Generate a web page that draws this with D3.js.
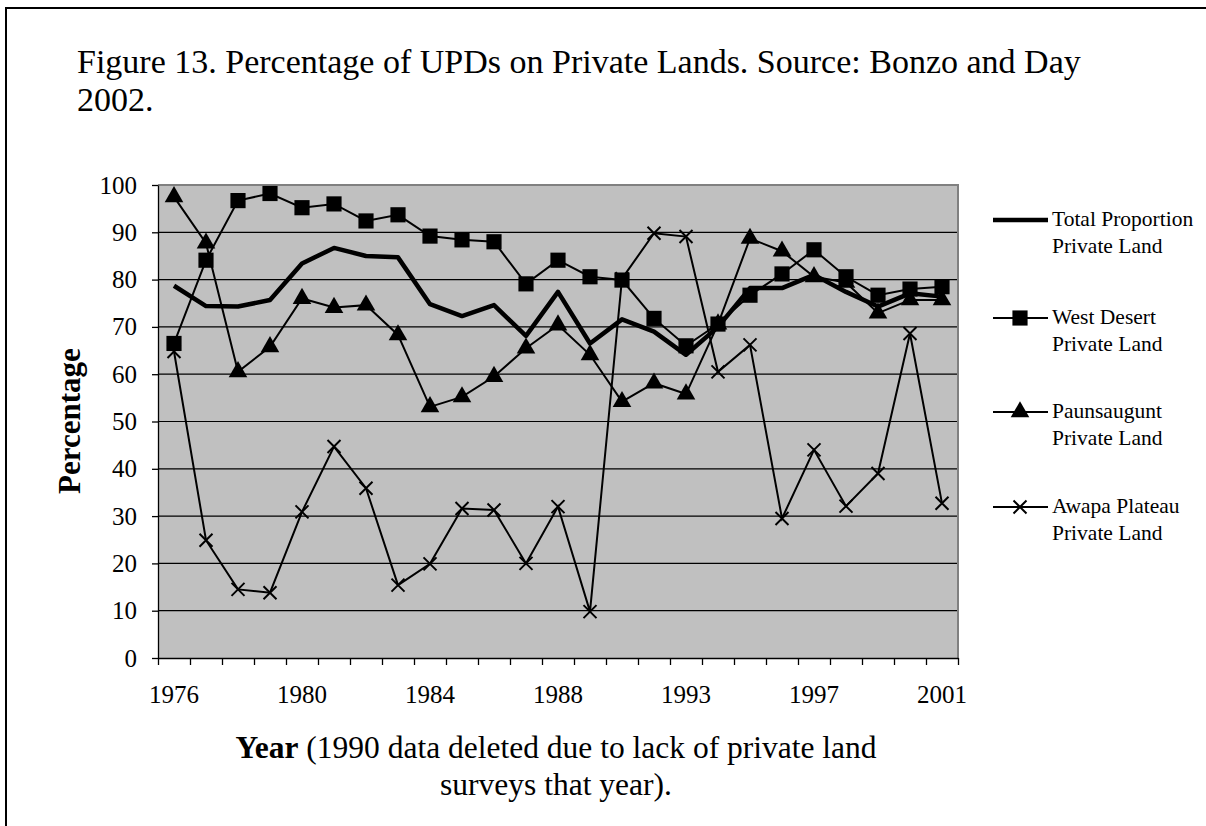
<!DOCTYPE html>
<html>
<head>
<meta charset="utf-8">
<script src="https://cdn.jsdelivr.net/npm/d3@7"></script>
<style>
body { margin: 0; background: #fff; }
svg { display: block; font-family: "Liberation Serif", "Times New Roman", serif; }
.axis text { font-size: 25px; fill: #000; font-family: "Liberation Serif", serif; }
.axis path, .axis line { stroke: #000; stroke-width: 1.3; }
.legendText { font-size: 21.5px; }
</style>
</head>
<body>
<script>
(function(){

//categories (1990 left out of the survey)
var years = ["1976","1977","1978","1979","1980","1981","1982","1983","1984","1985","1986","1987","1988","1989",
    "1991","1992","1993","1994","1995","1996","1997","1998","1999","2000","2001"];
var yearLabels = ["1976","1980","1984","1988","1993","1997","2001"];
var yTicks = [0,10,20,30,40,50,60,70,80,90,100];

//series values
var totalVals = [78.7,74.4,74.3,75.7,83.4,86.7,85.0,84.7,74.8,72.3,74.6,68.1,77.4,66.5,
    71.6,69.0,64.1,70.0,78.2,78.2,81.0,77.4,74.3,77.1,76.4];
var westVals = [66.5,84.1,96.7,98.2,95.2,96.0,92.4,93.7,89.2,88.4,88.0,79.1,84.1,80.6,
    79.9,71.8,66.0,70.6,76.7,81.2,86.3,80.6,76.7,78.0,78.5];
var paunVals = [97.5,87.7,60.5,65.8,76.0,74.1,74.6,68.3,53.1,55.2,59.5,65.5,70.4,64.1,
    54.2,58.1,55.8,70.6,88.7,86.0,80.6,79.4,72.9,75.7,75.7];
var awapaVals = [64.8,24.9,14.5,13.8,30.9,44.7,35.9,15.4,19.9,31.6,31.3,20.0,32.0,9.8,
    80.2,89.8,89.1,60.5,66.2,29.5,44.0,32.1,39.0,68.6,32.7];

var seriesNames = [["Total Proportion","Private Land"],["West Desert","Private Land"],
    ["Paunsaugunt","Private Land"],["Awapa Plateau","Private Land"]];

var width = 1206, height = 826;
var plot = {left: 158, right: 958, top: 185, bottom: 658};

var svg = d3.select("body").append("svg")
    .attr("width", width)
    .attr("height", height);

//page frame (top and left edges only)
svg.append("path")
    .attr("d", "M6,826 L6,8 L1206,8")
    .attr("fill", "none")
    .attr("stroke", "#000")
    .attr("stroke-width", 2);

//title
svg.append("text").attr("x", 77).attr("y", 73).style("font-size", "34px")
    .text("Figure 13. Percentage of UPDs on Private Lands. Source: Bonzo and Day");
svg.append("text").attr("x", 77).attr("y", 111).style("font-size", "34px")
    .text("2002.");

//scales
var x = d3.scaleBand().domain(years).range([plot.left, plot.right]).padding(0);
var xEdge = d3.scaleLinear().domain([0, years.length]).range([plot.left, plot.right]);
var y = d3.scaleLinear().domain([0, 100]).range([plot.bottom, plot.top]);

function cx(i){ return x(years[i]) + x.bandwidth() / 2; }

//plot background
svg.append("rect")
    .attr("x", plot.left).attr("y", plot.top)
    .attr("width", plot.right - plot.left).attr("height", plot.bottom - plot.top)
    .attr("fill", "#c0c0c0");

//gridlines
svg.selectAll(".grid")
    .data(yTicks.filter(function(d){ return d > 0 && d < 100; }))
    .enter().append("line")
    .attr("class", "grid")
    .attr("x1", plot.left).attr("x2", plot.right)
    .attr("y1", function(d){ return y(d); }).attr("y2", function(d){ return y(d); })
    .attr("stroke", "#000").attr("stroke-width", 1.2);

//gray border top and right
svg.append("path")
    .attr("d", "M" + plot.left + "," + plot.top + " L" + plot.right + "," + plot.top + " L" + plot.right + "," + plot.bottom)
    .attr("fill", "none").attr("stroke", "#808080").attr("stroke-width", 2);

//y axis
svg.append("g")
    .attr("class", "axis")
    .attr("transform", "translate(" + plot.left + ",0)")
    .call(d3.axisLeft(y).tickValues(yTicks).tickSize(6).tickSizeOuter(0).tickPadding(15));

//x axis ticks at category edges
svg.append("g")
    .attr("class", "axis")
    .attr("transform", "translate(0," + plot.bottom + ")")
    .call(d3.axisBottom(xEdge).tickValues(d3.range(years.length + 1))
        .tickFormat("").tickSize(7).tickSizeOuter(0));

//x axis labels
var xLab = svg.append("g")
    .attr("class", "axis")
    .attr("transform", "translate(0," + plot.bottom + ")")
    .call(d3.axisBottom(x).tickValues(yearLabels).tickSize(0).tickPadding(27));
xLab.select(".domain").remove();

//axis titles
svg.append("text")
    .attr("transform", "translate(80,421) rotate(-90)")
    .attr("text-anchor", "middle")
    .style("font-size", "31px").style("font-weight", "bold")
    .text("Percentage");

var xt = svg.append("text")
    .attr("x", 556).attr("y", 758)
    .attr("text-anchor", "middle")
    .style("font-size", "31.5px");
xt.append("tspan").style("font-weight", "bold").text("Year");
xt.append("tspan").text(" (1990 data deleted due to lack of private land");
svg.append("text")
    .attr("x", 556).attr("y", 795)
    .attr("text-anchor", "middle")
    .style("font-size", "31.5px")
    .text("surveys that year).");

//line generator
var line = d3.line()
    .x(function(d, i){ return cx(i); })
    .y(function(d){ return y(d); });

//marker shapes
var sq = d3.symbol().type(d3.symbolSquare).size(230)();
var tri = d3.symbol().type(d3.symbolTriangle).size(150)();
function cross(s){
    return "M" + (-s) + "," + (-s) + "L" + s + "," + s + "M" + (-s) + "," + s + "L" + s + "," + (-s);
}

//total
svg.append("path").datum(totalVals)
    .attr("d", line).attr("fill", "none").attr("stroke", "#000")
    .attr("stroke-width", 4.5).attr("stroke-linejoin", "round");

//west desert
svg.append("path").datum(westVals)
    .attr("d", line).attr("fill", "none").attr("stroke", "#000").attr("stroke-width", 2);
svg.selectAll(".west").data(westVals).enter().append("path")
    .attr("class", "west")
    .attr("transform", function(d, i){ return "translate(" + cx(i) + "," + y(d) + ")"; })
    .attr("d", sq).attr("fill", "#000");

//paunsaugunt
svg.append("path").datum(paunVals)
    .attr("d", line).attr("fill", "none").attr("stroke", "#000").attr("stroke-width", 2);
svg.selectAll(".paun").data(paunVals).enter().append("path")
    .attr("class", "paun")
    .attr("transform", function(d, i){ return "translate(" + cx(i) + "," + y(d) + ")"; })
    .attr("d", tri).attr("fill", "#000");

//awapa
svg.append("path").datum(awapaVals)
    .attr("d", line).attr("fill", "none").attr("stroke", "#000").attr("stroke-width", 2);
svg.selectAll(".awapa").data(awapaVals).enter().append("path")
    .attr("class", "awapa")
    .attr("transform", function(d, i){ return "translate(" + cx(i) + "," + y(d) + ")"; })
    .attr("d", cross(6.5)).attr("fill", "none").attr("stroke", "#000").attr("stroke-width", 2);

//legend
var legY = [220, 318, 412, 507];
var legend = svg.selectAll(".legend").data(seriesNames).enter().append("g")
    .attr("class", "legend")
    .attr("transform", function(d, i){ return "translate(993," + legY[i] + ")"; });
legend.append("line")
    .attr("x1", 0).attr("x2", 55).attr("y1", 0).attr("y2", 0)
    .attr("stroke", "#000")
    .attr("stroke-width", function(d, i){ return i == 0 ? 4.5 : 2; });
legend.each(function(d, i){
    var g = d3.select(this);
    if (i == 1) g.append("path").attr("transform", "translate(27,0)").attr("d", sq).attr("fill", "#000");
    if (i == 2) g.append("path").attr("transform", "translate(27,0)").attr("d", tri).attr("fill", "#000");
    if (i == 3) g.append("path").attr("transform", "translate(27,0)").attr("d", cross(6.5))
        .attr("stroke", "#000").attr("stroke-width", 2);
});
legend.append("text").attr("class", "legendText").attr("x", 59).attr("y", 6)
    .text(function(d){ return d[0]; });
legend.append("text").attr("class", "legendText").attr("x", 59).attr("y", 33)
    .text(function(d){ return d[1]; });

})();
</script>
</body>
</html>
